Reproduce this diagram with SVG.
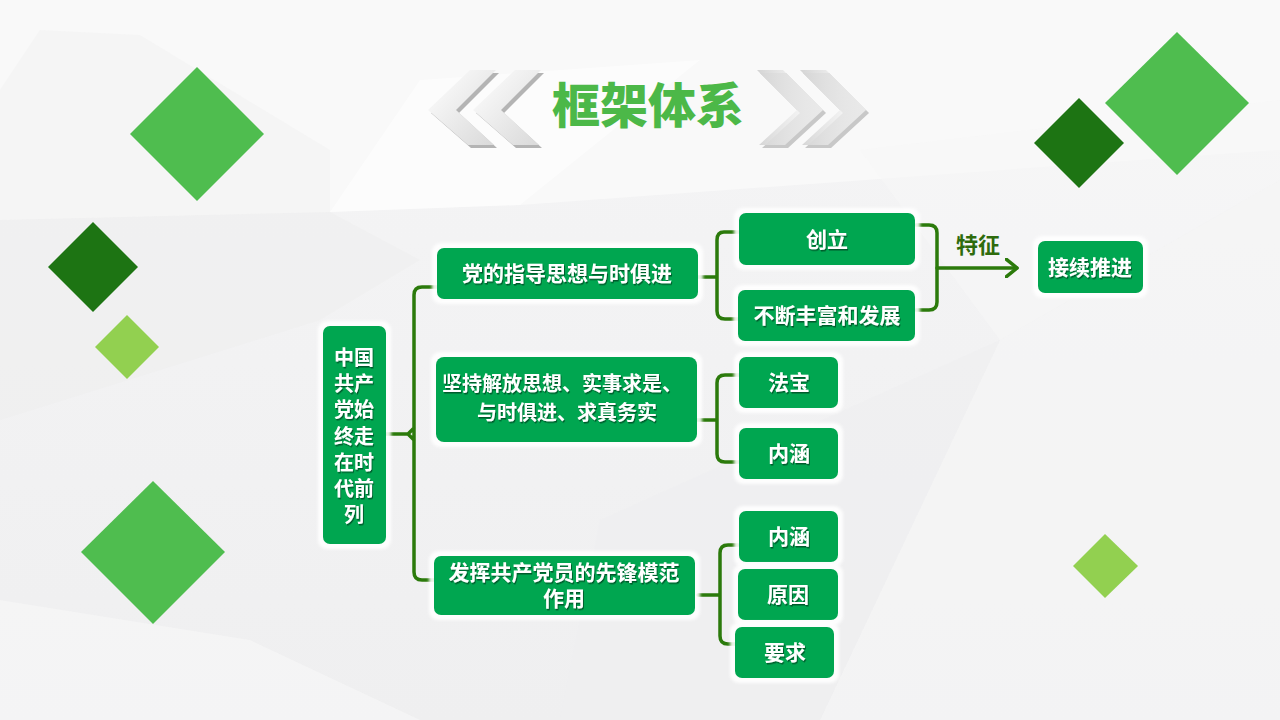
<svg xmlns="http://www.w3.org/2000/svg" width="1280" height="720" viewBox="0 0 1280 720">
<defs>
<linearGradient id="bg" x1="0" y1="0" x2="0" y2="1">
<stop offset="0" stop-color="#f5f5f6"/>
<stop offset="1" stop-color="#efeff0"/>
</linearGradient>
<linearGradient id="chevL" x1="0" y1="0" x2="1" y2="1">
<stop offset="0" stop-color="#ffffff"/>
<stop offset="1" stop-color="#d9d9d9"/>
</linearGradient>
<linearGradient id="chevR" x1="0" y1="0" x2="1" y2="0">
<stop offset="0" stop-color="#d4d4d4"/>
<stop offset="1" stop-color="#ffffff" stop-opacity="0.6"/>
</linearGradient>
<filter id="ts" x="-10%" y="-10%" width="130%" height="140%">
<feDropShadow dx="1" dy="1.5" stdDeviation="0.6" flood-color="#000" flood-opacity="0.45"/>
</filter>
<filter id="glow" x="-10%" y="-10%" width="120%" height="120%">
<feGaussianBlur stdDeviation="1.5"/>
</filter>
<marker id="arr" viewBox="0 0 14 20" refX="12" refY="10" markerWidth="14" markerHeight="20" markerUnits="userSpaceOnUse" orient="auto">
<path d="M1,1 L12,10 L1,19" fill="none" stroke="#2b7a0b" stroke-width="3.5" stroke-linecap="round" stroke-linejoin="round"/>
</marker>
</defs>
<style>
.node{fill:#00a650;}
.halo{fill:#ffffff;opacity:0.9;}
.t{font-family:"Noto Sans CJK SC","Noto Sans",sans-serif;font-weight:700;fill:#ffffff;text-anchor:middle;dominant-baseline:central;filter:url(#ts);}
.conn{fill:none;stroke:#2b7a0b;stroke-width:3.5;stroke-linejoin:round;stroke-linecap:round;}
.dg{fill:#1d7413;}
.mg{fill:#4fbd4f;}
.lg{fill:#92d050;}
</style>

<!-- background -->
<rect width="1280" height="720" fill="url(#bg)"/>
<polygon points="0,0 1280,0 1280,150 520,205 330,212 0,220" fill="#f9f9f9"/>
<polygon points="40,30 140,35 330,150 330,212 0,220 0,90" fill="#f4f4f4" opacity="0.7"/>
<polygon points="420,80 700,60 520,205 330,212" fill="#ffffff" opacity="0.5"/>
<polygon points="0,220 330,212 420,260 320,320 0,420" fill="#eeeeef" opacity="0.6"/>
<polygon points="1000,340 1280,180 1280,720 820,720" fill="#f5f5f5" opacity="0.7"/>
<polygon points="600,520 1000,340 820,720 560,720" fill="#efeff0" opacity="0.6"/>
<polygon points="0,600 250,640 420,720 0,720" fill="#f6f6f6" opacity="0.7"/>
<polygon points="860,150 1280,100 1280,180 1000,340" fill="#f7f7f7" opacity="0.6"/>

<!-- decorative diamonds -->
<g id="decor">
<polygon class="mg" points="197,67 264,134 197,201 130,134"/>
<polygon class="dg" points="93,222 138,267 93,312 48,267"/>
<polygon class="lg" points="127,315 159,347 127,379 95,347"/>
<polygon class="mg" points="153,481 225,552 153,624 81,552"/>
<polygon class="mg" points="1177,32 1249,103 1177,175 1105,103"/>
<polygon class="dg" points="1079,98 1124,143 1079,188 1034,143"/>
<polygon class="lg" points="1105,534 1138,566 1105,598 1073,566"/>
</g>

<!-- title -->
<g id="title">
<polygon points="431,113 473,73 499,73 459,113 497,148 471,148" fill="#b4b4b4"/>
<polygon points="428,110 470,70 496,70 456,110 494,145 468,145" fill="url(#chevL)"/>
<polygon points="476,113 518,73 544,73 504,113 542,148 516,148" fill="#b4b4b4"/>
<polygon points="473,110 515,70 541,70 501,110 539,145 513,145" fill="url(#chevL)"/>
<polygon points="760,73 786,73 826,113 788,148 762,148 800,113" fill="#c8c8c8"/>
<polygon points="757,70 783,70 823,110 785,145 759,145 797,110" fill="url(#chevR)"/>
<polygon points="803,73 829,73 869,113 831,148 805,148 843,113" fill="#c8c8c8"/>
<polygon points="800,70 826,70 866,110 828,145 802,145 840,110" fill="url(#chevR)"/>
<text x="648" y="102" font-family="Noto Sans CJK SC,sans-serif" font-weight="900" font-size="48" fill="#4cb848" text-anchor="middle" dominant-baseline="central">框架体系</text>
</g>

<!-- connectors -->
<g id="connectors">
<path class="conn" d="M386,434 H408 M437,287 H422 Q414,287 414,295 V572 Q414,580 422,580 H434 M408,434 L414,428 M408,434 L414,440"/>
<path class="conn" d="M698,277 H716 M739,232 H724 Q717,232 717,240 V311 Q717,319 725,319 H739"/>
<path class="conn" d="M697,420 H716 M739,375 H725 Q717,375 717,383 V454 Q717,462 725,462 H739"/>
<path class="conn" d="M698,595 H719 M738,545 H728 Q720,545 720,553 V636 Q720,644 728,644 H735"/>
<path class="conn" d="M916,225 H929 Q937,225 937,233 V302 Q937,310 929,310 H916"/>
<path class="conn" d="M937,268 H1017" marker-end="url(#arr)"/>
<text x="978" y="243" font-family="Noto Sans CJK SC,sans-serif" font-weight="700" font-size="22" fill="#2e6b0c" text-anchor="middle" dominant-baseline="central">特征</text>
</g>

<!-- nodes -->
<g id="root">
<rect class="halo" x="318" y="321" width="73" height="228" rx="9" filter="url(#glow)"/>
<rect class="node" x="323" y="326" width="63" height="218" rx="7"/>
<text class="t" font-size="20"><tspan x="354" y="356">中国</tspan><tspan x="354" y="382">共产</tspan><tspan x="354" y="408">党始</tspan><tspan x="354" y="435">终走</tspan><tspan x="354" y="461">在时</tspan><tspan x="354" y="487">代前</tspan><tspan x="354" y="513">列</tspan></text>
</g>
<g id="nodeA">
<rect class="halo" x="432" y="243" width="271" height="61" rx="9" filter="url(#glow)"/>
<rect class="node" x="437" y="248" width="261" height="51" rx="7"/>
<text class="t" x="567" y="272" font-size="21">党的指导思想与时俱进</text>
</g>
<g id="nodeB">
<rect class="halo" x="431" y="352" width="271" height="95" rx="9" filter="url(#glow)"/>
<rect class="node" x="436" y="357" width="261" height="85" rx="8"/>
<text class="t" font-size="20"><tspan x="562" y="382">坚持解放思想、实事求是、</tspan><tspan x="567" y="411">与时俱进、求真务实</tspan></text>
</g>
<g id="nodeC">
<rect class="halo" x="429" y="551" width="271" height="69" rx="9" filter="url(#glow)"/>
<rect class="node" x="434" y="556" width="261" height="59" rx="7"/>
<text class="t" font-size="21"><tspan x="564" y="571">发挥共产党员的先锋模范</tspan><tspan x="564" y="597">作用</tspan></text>
</g>
<g id="chuangli">
<rect class="halo" x="734" y="208" width="186" height="62" rx="9" filter="url(#glow)"/>
<rect class="node" x="739" y="213" width="176" height="52" rx="7"/>
<text class="t" x="827" y="238" font-size="21">创立</text>
</g>
<g id="fazhan">
<rect class="halo" x="733" y="285" width="187" height="61" rx="9" filter="url(#glow)"/>
<rect class="node" x="738" y="290" width="177" height="51" rx="7"/>
<text class="t" x="827" y="314" font-size="21">不断丰富和发展</text>
</g>
<g id="jiexu">
<rect class="halo" x="1033" y="236" width="115" height="62" rx="9" filter="url(#glow)"/>
<rect class="node" x="1038" y="241" width="105" height="52" rx="7"/>
<text class="t" x="1090" y="266" font-size="21">接续推进</text>
</g>
<g id="fabao">
<rect class="halo" x="734" y="352" width="109" height="61" rx="9" filter="url(#glow)"/>
<rect class="node" x="739" y="357" width="99" height="51" rx="7"/>
<text class="t" x="789" y="381" font-size="21">法宝</text>
</g>
<g id="neihan1">
<rect class="halo" x="734" y="423" width="109" height="61" rx="9" filter="url(#glow)"/>
<rect class="node" x="739" y="428" width="99" height="51" rx="7"/>
<text class="t" x="789" y="452" font-size="21">内涵</text>
</g>
<g id="neihan2">
<rect class="halo" x="734" y="506" width="109" height="61" rx="9" filter="url(#glow)"/>
<rect class="node" x="739" y="511" width="99" height="51" rx="7"/>
<text class="t" x="789" y="535" font-size="21">内涵</text>
</g>
<g id="yuanyin">
<rect class="halo" x="733" y="564" width="110" height="61" rx="9" filter="url(#glow)"/>
<rect class="node" x="738" y="569" width="100" height="51" rx="7"/>
<text class="t" x="788" y="593" font-size="21">原因</text>
</g>
<g id="yaoqiu">
<rect class="halo" x="730" y="622" width="109" height="61" rx="9" filter="url(#glow)"/>
<rect class="node" x="735" y="627" width="99" height="51" rx="7"/>
<text class="t" x="785" y="651" font-size="21">要求</text>
</g>
</svg>
